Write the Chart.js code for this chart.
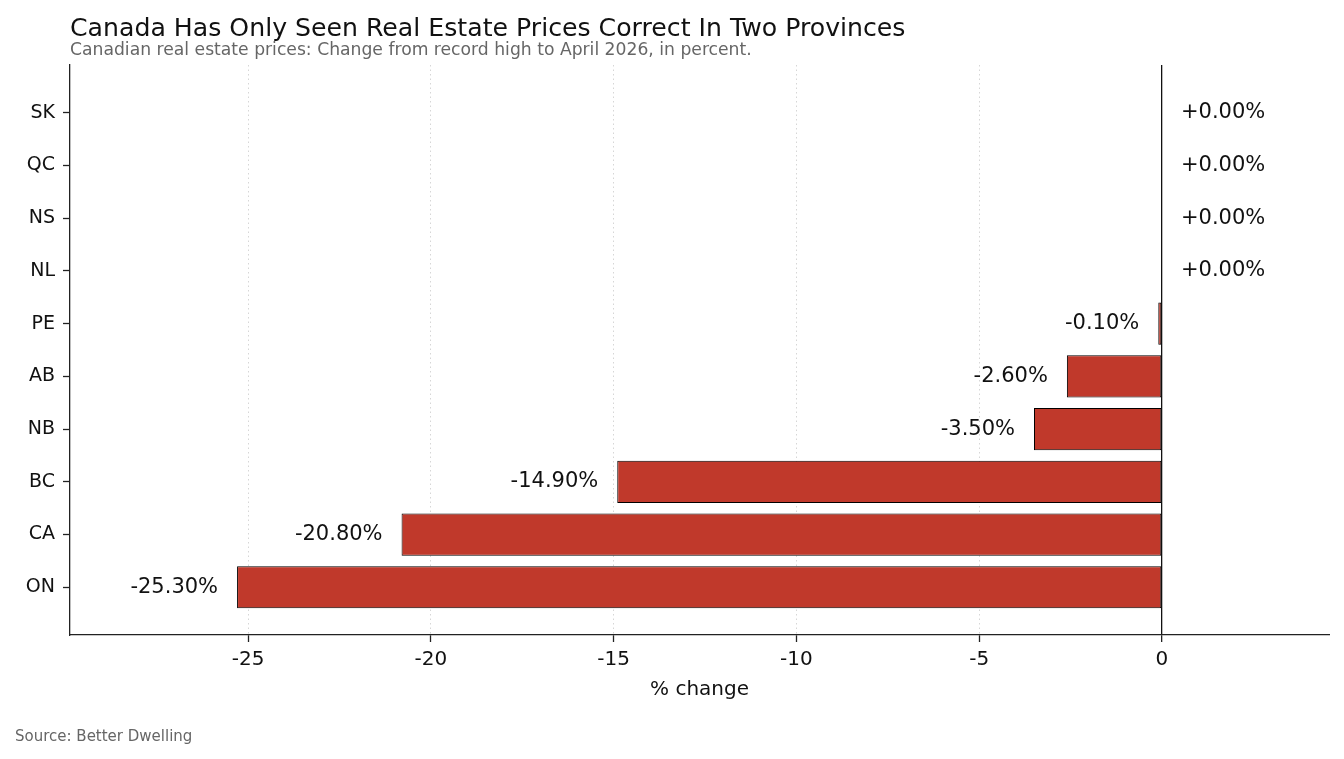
<!DOCTYPE html>
<html>
<head>
<meta charset="utf-8">
<script src="https://cdn.jsdelivr.net/npm/chart.js@4.4.1/dist/chart.umd.min.js"></script>
<style>
html,body{margin:0;padding:0;background:#fff;}
canvas{display:block;}
</style>
</head>
<body>
<canvas id="c" width="1344" height="759"></canvas>
<script>
// Data (bottom to top, as plotted)
const categories = ["ON", "CA", "BC", "NB", "AB", "PE", "NL", "NS", "QC", "SK"];
const changes = [-25.3, -20.8, -14.9, -3.5, -2.6, -0.1, 0, 0, 0, 0];
const xTicks = [-25, -20, -15, -10, -5, 0];
const titleText = "Canada Has Only Seen Real Estate Prices Correct In Two Provinces";
const subtitleText = "Canadian real estate prices: Change from record high to April 2026, in percent.";
const sourceText = "Source: Better Dwelling";
const xTitle = "% change";

const FONT = "'DejaVu Sans', 'Noto Sans', sans-serif";

const textPlugin = {
  id: 'texts',
  afterDraw(chart) {
    const ctx = chart.ctx;
    const a = chart.chartArea;
    ctx.save();
    ctx.textAlign = 'left';
    ctx.textBaseline = 'alphabetic';
    ctx.fillStyle = '#111';
    ctx.font = "25.2px " + FONT;
    ctx.fillText(titleText, a.left, 36);
    ctx.fillStyle = '#666';
    ctx.font = "17.2px " + FONT;
    ctx.fillText(subtitleText, a.left, 55);
    ctx.font = "15px " + FONT;
    ctx.fillText(sourceText, 15, 741);
    // value labels
    const meta = chart.getDatasetMeta(0);
    ctx.fillStyle = '#111';
    ctx.font = "21px " + FONT;
    ctx.textBaseline = 'middle';
    meta.data.forEach((bar, i) => {
      const v = changes[i];
      const txt = (v >= 0 ? '+' : '') + v.toFixed(2) + '%';
      if (v < 0) {
        ctx.textAlign = 'right';
        ctx.fillText(txt, bar.x - 19, bar.y);
      } else {
        ctx.textAlign = 'left';
        ctx.fillText(txt, bar.x + 19, bar.y);
      }
    });
    ctx.restore();
  }
};

new Chart(document.getElementById('c'), {
  type: 'bar',
  data: {
    datasets: [{
      data: changes.map((v, i) => ({x: v, y: i})),
      backgroundColor: '#c0392b',
      borderColor: '#000',
      borderWidth: 1,
      borderSkipped: false,
      barPercentage: 0.8,
      categoryPercentage: 1.0
    }]
  },
  options: {
    indexAxis: 'y',
    responsive: false,
    animation: false,
    devicePixelRatio: 1,
    layout: {padding: {top: 65, right: 15, bottom: 57, left: 0}},
    plugins: {legend: {display: false}, tooltip: {enabled: false}, title: {display: false}},
    scales: {
      x: {
        type: 'linear',
        min: -29.87,
        max: 4.57,
        afterBuildTicks(scale) { scale.ticks = xTicks.map(v => ({value: v})); },
        afterFit(scale) { scale.height = 67; },
        ticks: {
          color: '#111',
          font: {family: FONT, size: 20},
          padding: 6,
          callback: v => String(v)
        },
        grid: {
          color: ctx => (ctx.tick && ctx.tick.value === 0) ? '#111' : '#d6d6d6',
          lineWidth: ctx => (ctx.tick && ctx.tick.value === 0) ? 1.3 : 1,
          tickColor: '#222',
          tickWidth: 1.3,
          tickLength: 7
        },
        border: {
          color: '#222',
          width: 1.3,
          dash: ctx => (ctx.tick && ctx.tick.value === 0) ? [] : [1.5, 3]
        },
        title: {
          display: true,
          text: xTitle,
          color: '#111',
          font: {family: FONT, size: 20},
          padding: 0
        }
      },
      y: {
        type: 'linear',
        offset: false,
        min: -0.905,
        max: 9.905,
        afterBuildTicks(scale) { scale.ticks = categories.map((c, i) => ({value: i})); },
        afterFit(scale) { scale.width = 70; },
        ticks: {
          color: '#111',
          font: {family: FONT, size: 19},
          padding: 8,
          callback: v => categories[v]
        },
        grid: {
          offset: false,
          drawOnChartArea: false,
          tickColor: '#222',
          tickWidth: 1.3,
          tickLength: 7
        },
        border: {color: '#222', width: 1.3}
      }
    }
  },
  plugins: [textPlugin]
});
</script>
</body>
</html>
